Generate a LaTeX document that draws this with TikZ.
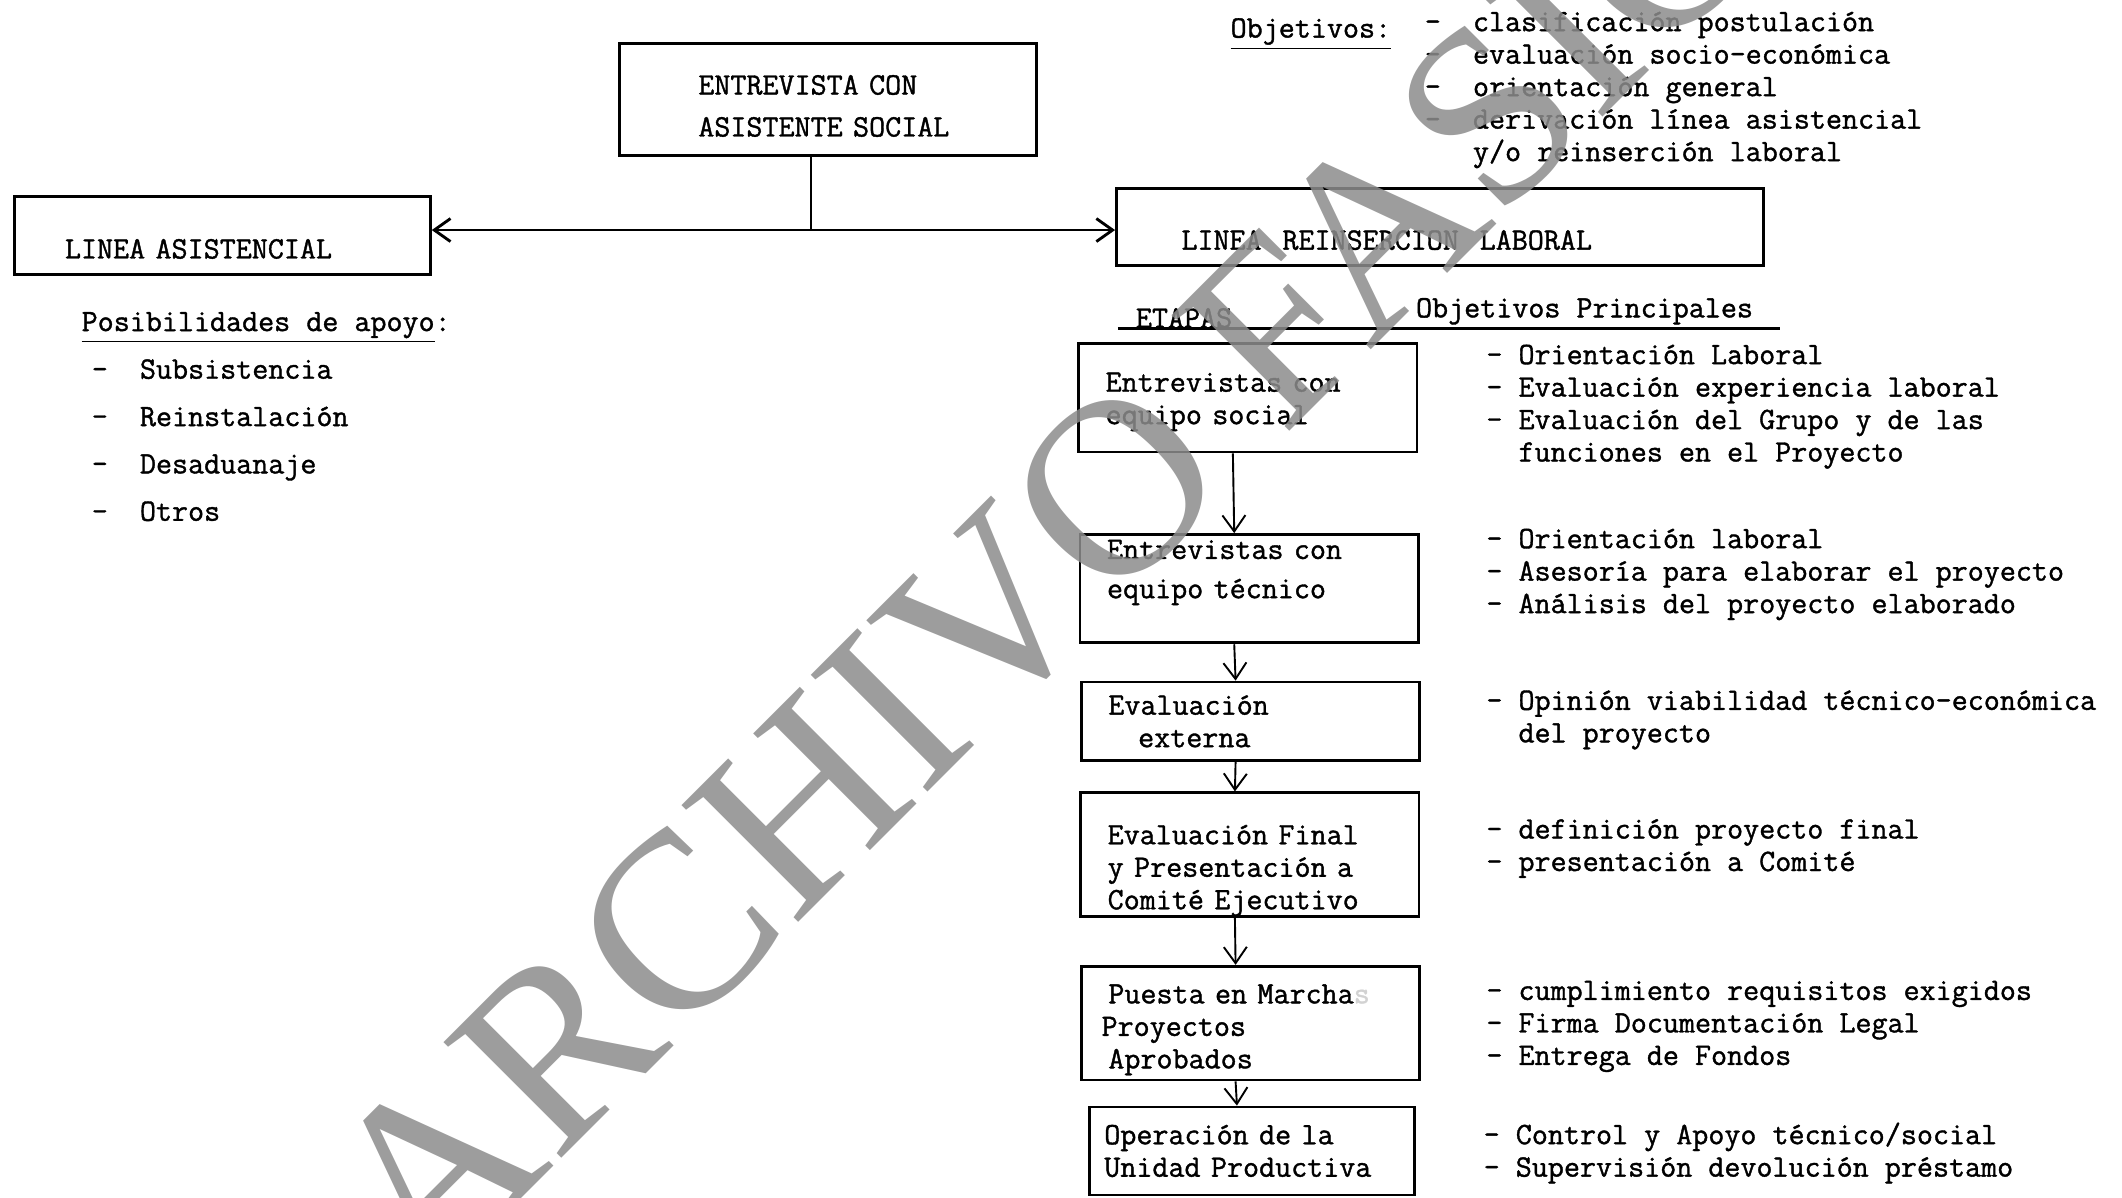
\documentclass[tikz,border=0pt]{standalone}
\usepackage{fontspec}
\usepackage{tikz}
\usetikzlibrary{arrows.meta}
\setmonofont{Latin Modern Mono}[FakeBold=1.2]
\newfontfamily\wmfont{Liberation Serif}
\tikzset{>={Straight Barb[length=2.4mm,width=3.4mm]}}
\definecolor{wmgray}{RGB}{140,140,140}
\def\txtsize{\fontsize{13.1}{13.66}\selectfont}
\tikzset{
  txt/.style={font=\ttfamily\txtsize, inner sep=0pt, align=left},
  bigbox/.style={txt, draw, line width=1.2pt},
  stepbox/.style={bigbox, text width=42mm, inner xsep=4mm},
  lowtext/.style={text height=6.8mm, text depth=0pt},
}

\begin{document}
\begin{tikzpicture}[x=0.2mm, y=-0.2mm]
    \useasboundingbox (0,0) rectangle (1568,885);
    % first interview and the two lines
    \node[bigbox, text width=38.4mm, inner xsep=11.6mm, minimum height=16.6mm] (ent) at (612,73.5) {\rule{0pt}{4.8mm}ENTREVISTA CON\\[1.4mm]ASISTENTE SOCIAL};
    \node[bigbox, lowtext, text width=46.6mm, inner xsep=7.4mm, minimum height=11.6mm] (la) at (164.5,174) {LINEA ASISTENCIAL};
    \node[bigbox, lowtext, text width=76.4mm, inner xsep=9.6mm, minimum height=11.4mm] (lr) at (1064,167.5) {LINEA~~REINSERCION~~LABORAL};
    \coordinate (j) at (599,170);
    \draw[line width=0.8pt] (ent.south -| j) -- (j);
    \draw[->, line width=1.2pt] (j) -- (la.east |- j);
    \draw[->, line width=1.2pt] (j) -- (lr.west |- j);

    % objetivos
    \node[txt, anchor=west] (obj) at (909,25) {\underline{Objetivos:}};
    \node[txt, anchor=west] (objlist) at (1052.5,66.5) {-~~clasificación postulación\\-~~evaluación socio-económica\\-~~orientación general\\-~~derivación línea asistencial\\\phantom{-~~}y/o reinserción laboral};

    % linea asistencial
    \node[txt, anchor=west] (apoyo) at (60,242) {\underline{Posibilidades de apoyo}:};
    \node[txt, anchor=west] (apoyolist) at (67.5,325.3) {-~~Subsistencia\\[2.2mm]-~~Reinstalación\\[2.2mm]-~~Desaduanaje\\[2.2mm]-~~Otros};

    % linea reinsercion laboral
    \node[txt, anchor=west] (etapas) at (839,235) {ETAPAS};
    \node[txt, anchor=west] (objp) at (1046,230) {Objetivos Principales};
    \draw[line width=1.2pt] (826,243) -- (1315,243);

    \node[stepbox, minimum height=16mm] (b1) at (922,294) {\rule{0pt}{4mm}Entrevistas con\\equipo social};
    \node[stepbox, minimum height=16mm] (b2) at (923,435) {Entrevistas con\\[1mm]equipo técnico\\[1mm]\mbox{}};
    \node[stepbox, minimum height=11.6mm] (b3) at (924,533) {Evaluación\\\hspace*{4.4mm}externa};
    \node[stepbox, minimum height=16.6mm] (b4) at (923.5,631.5) {\rule{0pt}{7.6mm}Evaluación Final\\y Presentación a\\Comité Ejecutivo};
    \node[stepbox, minimum height=16.8mm] (b5) at (924,756) {\rule{0pt}{4.8mm}Puesta en Marcha{\color{gray!35}s}\\\hspace*{-1mm}Proyectos\\Aprobados};
    \node[stepbox, text width=43.6mm, inner xsep=2.2mm, minimum height=13mm] (b6) at (925,850.5) {Operación de la\\Unidad Productiva};

    \draw[->, line width=0.8pt] ([xshift=-2.2mm]b1.south) -- ([xshift=-2.2mm]b2.north);
    \draw[->, line width=0.8pt] ([xshift=-2.2mm]b2.south) -- ([xshift=-2.2mm]b3.north);
    \draw[->, line width=0.8pt] ([xshift=-2.2mm]b3.south) -- ([xshift=-2.2mm]b4.north);
    \draw[->, line width=0.8pt] ([xshift=-2.2mm]b4.south) -- ([xshift=-2.2mm]b5.north);
    \draw[->, line width=0.8pt] ([xshift=-2.2mm]b5.south) -- ([xshift=-2.2mm]b6.north);

    \node[txt, anchor=west] (o1) at (1098,300.5) {- Orientación Laboral\\- Evaluación experiencia laboral\\- Evaluación del Grupo y de las\\\phantom{-~}funciones en el Proyecto};
    \node[txt, anchor=west] (o2) at (1098,424.5) {- Orientación laboral\\- Asesoría para elaborar el proyecto\\- Análisis del proyecto elaborado};
    \node[txt, anchor=west] (o3) at (1098,532) {- Opinión viabilidad técnico-económica\\\phantom{-~}del proyecto};
    \node[txt, anchor=west] (o4) at (1098,627) {- definición proyecto final\\- presentación a Comité};
    \node[txt, anchor=west] (o5) at (1098,758.5) {- cumplimiento requisitos exigidos\\- Firma Documentación Legal\\- Entrega de Fondos};
    \node[txt, anchor=west] (o6) at (1096,852) {- Control y Apoyo técnico/social\\- Supervisión devolución préstamo};

    % watermark
    \begin{scope}
      \clip (0,0) rectangle (1568,885);
      \node[font=\wmfont\fontsize{106}{106}\selectfont, text=wmgray, text opacity=0.85, rotate=45, inner sep=0pt] (wm) at (771,415) {ARCHIVO FASIC};
    \end{scope}
\end{tikzpicture}
\end{document}
